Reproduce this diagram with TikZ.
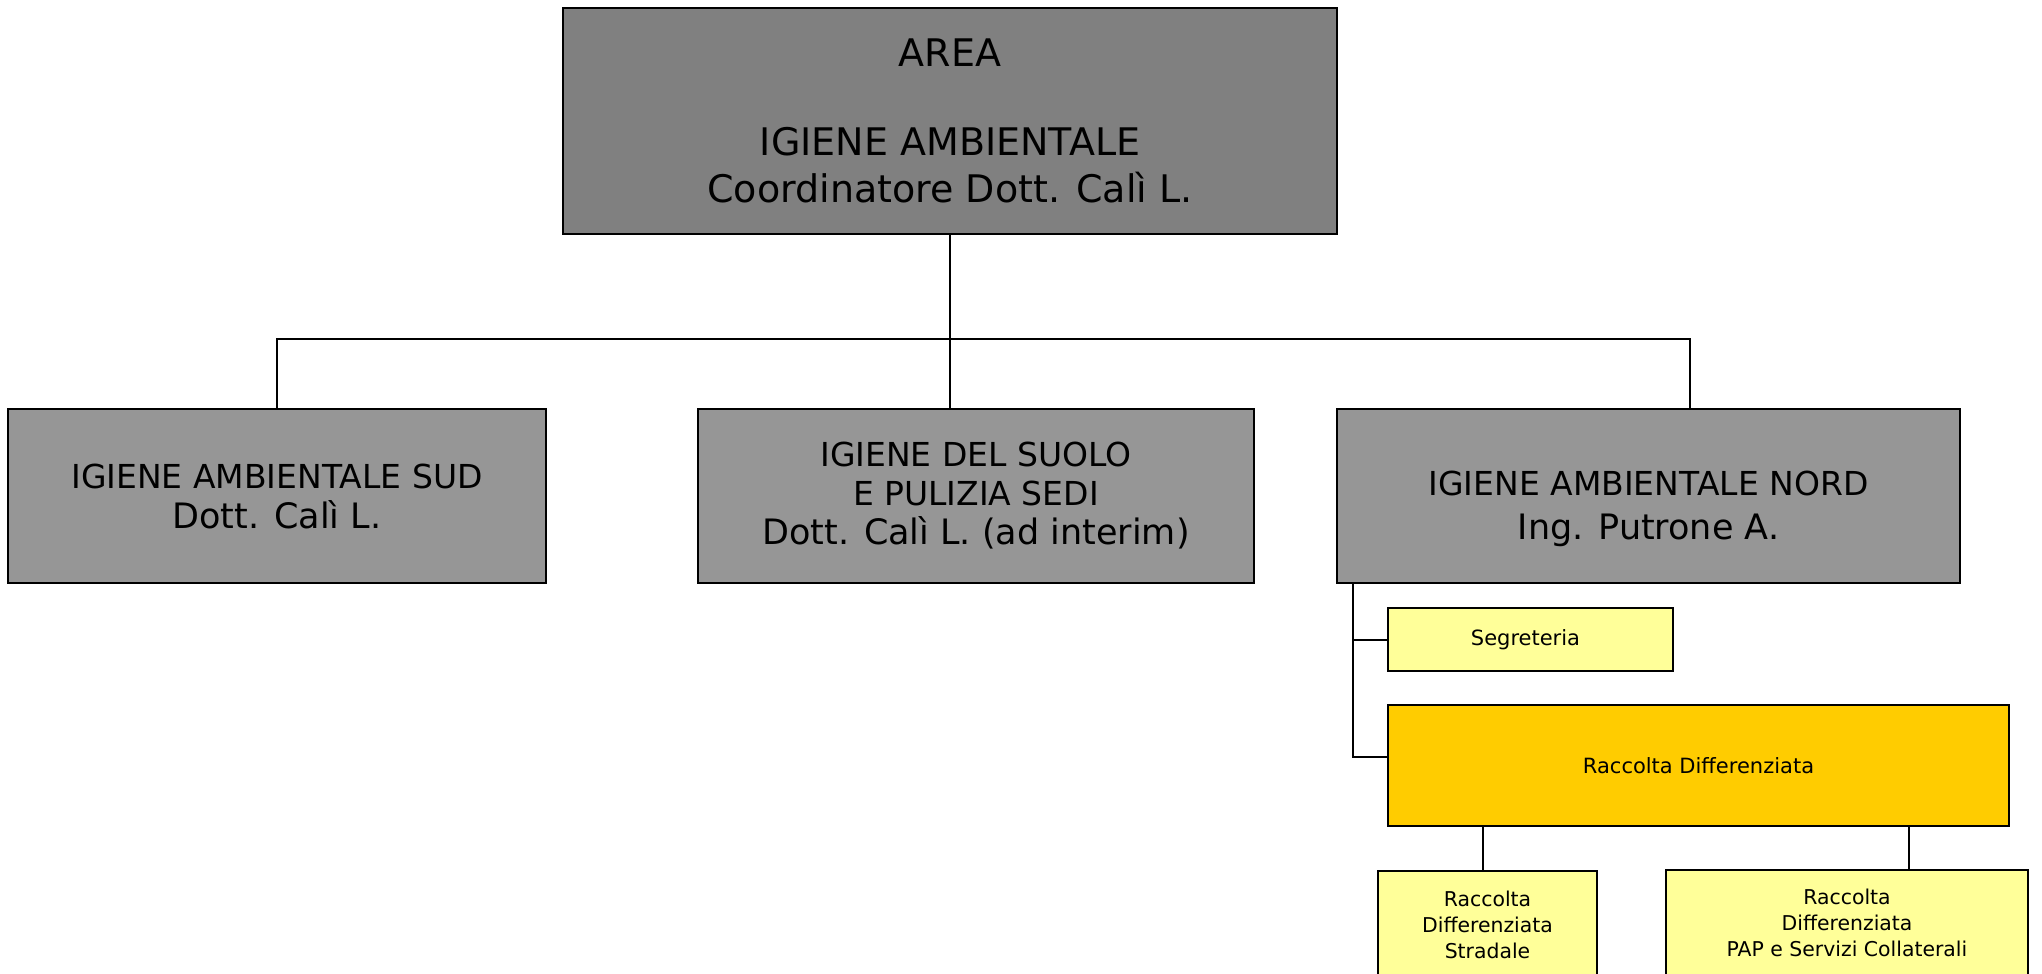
\documentclass[tikz,border=0pt]{standalone}
\usepackage{fontspec}
\setmainfont{DejaVu Sans}
\definecolor{topgray}{HTML}{808080}
\definecolor{rowgray}{HTML}{969696}
\definecolor{paleyellow}{HTML}{FFFF99}
\definecolor{goldfill}{HTML}{FFCC00}
\begin{document}
\begin{tikzpicture}[x=0.5pt,y=-0.5pt,
  box/.style={draw=black, line width=1.45pt, inner sep=0pt, align=center},
  conn/.style={draw=black, line width=1pt}]
\useasboundingbox (0,0) rectangle (2042,974);
% top
\node[box, fill=topgray, minimum width=387pt, minimum height=113pt,
  font=\fontsize{19}{23.5}\selectfont] (top) at (950,121)
  {AREA\\[21pt]IGIENE AMBIENTALE\\Coordinatore Dott. Calì L.};
% second row
\node[box, fill=rowgray, minimum width=269pt, minimum height=87pt,
  font=\fontsize{16.5}{20}\selectfont] (sud) at (277,496)
  {IGIENE AMBIENTALE SUD\\{\fontsize{17.5}{20}\selectfont Dott. Calì L.}};
\node[box, fill=rowgray, minimum width=278pt, minimum height=87pt,
  font=\fontsize{16.5}{19.5}\selectfont] (suolo) at (976,496)
  {IGIENE DEL SUOLO\\E PULIZIA SEDI\\{\fontsize{17.5}{19.5}\selectfont Dott. Calì L. (ad interim)}};
\node[box, fill=rowgray, minimum width=311.5pt, minimum height=87pt] (nord) at (1648.5,496) {};
\node[align=center, inner sep=0pt, font=\fontsize{16.5}{22}\selectfont] (nordtext) at ([yshift=-6.5pt]nord.center)
  {IGIENE AMBIENTALE NORD\\{\fontsize{17.5}{22}\selectfont Ing. Putrone A.}};
% third level
\node[box, fill=paleyellow, minimum width=142.5pt, minimum height=31.5pt,
  font=\fontsize{10.5}{13}\selectfont] (seg) at (1530.5,639.5) {\hspace*{-5pt}Segreteria};
\node[box, fill=goldfill, minimum width=310.5pt, minimum height=60.5pt,
  font=\fontsize{10.5}{13}\selectfont] (racc) at (1698.5,765.5) {Raccolta Differenziata};
\node[box, fill=paleyellow, minimum width=109.5pt, minimum height=54pt,
  font=\fontsize{10.2}{13}\selectfont] (strad) at (1487.5,925)
  {Raccolta\\Differenziata\\Stradale};
\node[box, fill=paleyellow, minimum width=181pt, minimum height=53pt,
  font=\fontsize{10.2}{13}\selectfont] (pap) at (1847,923)
  {Raccolta\\Differenziata\\PAP e Servizi Collaterali};
% connectors
\coordinate (hl) at (277,339);
\coordinate (hr) at (1690,339);
\draw[conn] (top.south) -- (top.south |- hl);
\draw[conn] (sud.north) -- (sud.north |- hl) -- (hr) -- (hr |- nord.north);
\draw[conn] (top.south |- hl) -- (top.south |- suolo.north);
\coordinate (nbl) at ([xshift=8.5pt]nord.south west);
\coordinate (rj) at ([yshift=4.25pt]racc.west);
\draw[conn] (nbl) -- (nbl |- rj) -- (rj);
\draw[conn] (nbl |- seg.west) -- (seg.west);
\coordinate (sj) at (1483,0);
\coordinate (pj) at (1909,0);
\draw[conn] (racc.south -| sj) -- (strad.north -| sj);
\draw[conn] (racc.south -| pj) -- (pap.north -| pj);
\end{tikzpicture}
\end{document}
